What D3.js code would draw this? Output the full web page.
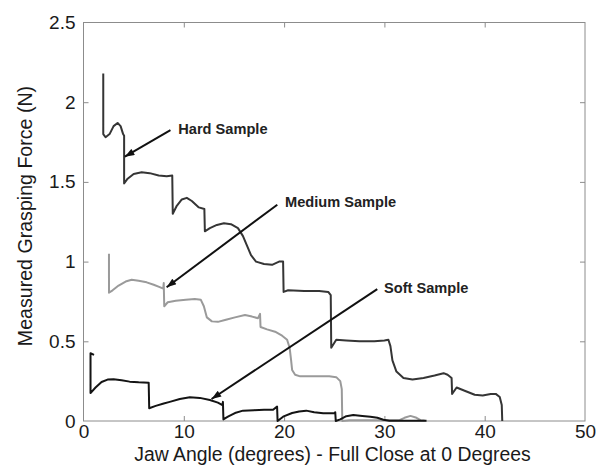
<!DOCTYPE html>
<html>
<head>
<meta charset="utf-8">
<script src="https://cdn.jsdelivr.net/npm/d3@7"></script>
<style>
  html, body { margin: 0; padding: 0; background: #fff; }
  svg { display: block; }
  text { font-family: "Liberation Sans", Arial, Helvetica, sans-serif; }
</style>
</head>
<body>
<div id="chart"></div>
<script>
// ---------------- data ----------------
const xTicks = [0, 10, 20, 30, 40, 50];
const yTicks = [0, 0.5, 1, 1.5, 2, 2.5];

const hardX = [1.97, 1.97, 2.2, 2.6, 3.0, 3.4, 3.7, 3.95, 4.05, 4.05, 4.4, 5.0, 5.8, 6.6, 7.5, 8.3, 8.85,
  8.9, 9.3, 9.8, 10.3, 10.8, 11.5, 12.05, 12.1, 12.6, 13.3, 14.0, 14.7, 15.4, 15.9, 16.3, 16.7, 17.2, 18.0, 18.8, 19.5, 19.9,
  19.95, 20.4, 22.0, 23.5, 24.4, 24.65, 24.7, 25.2, 26.2, 27.5, 29.0, 30.0, 30.4, 30.6, 30.8, 31.2, 31.9, 32.8, 33.9, 35.0, 35.9, 36.3, 36.7,
  36.75, 37.2, 38.0, 39.0, 39.8, 40.6, 41.1, 41.5, 41.7, 41.75];
const hardY = [2.18, 1.80, 1.78, 1.80, 1.85, 1.87, 1.85, 1.80, 1.79, 1.49, 1.52, 1.55, 1.56, 1.555, 1.54, 1.535, 1.54,
  1.30, 1.35, 1.39, 1.40, 1.38, 1.34, 1.33, 1.19, 1.21, 1.23, 1.24, 1.235, 1.21, 1.16, 1.10, 1.04, 1.00, 0.985, 0.98, 1.0, 1.0,
  0.81, 0.82, 0.815, 0.815, 0.81, 0.79, 0.46, 0.51, 0.505, 0.50, 0.50, 0.505, 0.51, 0.47, 0.38, 0.31, 0.27, 0.26, 0.27, 0.285, 0.30, 0.29, 0.27,
  0.17, 0.21, 0.19, 0.165, 0.16, 0.17, 0.17, 0.15, 0.10, 0.0];

const mediumX = [2.54, 2.54, 2.9, 3.5, 4.2, 4.8, 5.5, 6.3, 7.0, 7.6, 7.95, 8.0, 8.05, 8.4, 9.2, 10.2, 11.1, 11.7, 12.0, 12.3, 12.8, 13.4,
  14.2, 15.1, 16.1, 16.8, 17.4, 17.6, 17.65, 18.3, 19.1, 19.8, 20.3, 20.55, 20.7, 20.8, 21.1, 21.6, 23.0, 24.5, 25.2, 25.6, 25.75, 25.8,
  26.5, 30.0, 31.5, 32.0, 32.6, 33.2, 33.6, 34.0];
const mediumY = [1.05, 0.805, 0.82, 0.85, 0.875, 0.886, 0.88, 0.87, 0.855, 0.84, 0.83, 0.865, 0.72, 0.745, 0.755, 0.76, 0.765, 0.76, 0.72, 0.65, 0.625, 0.622,
  0.635, 0.65, 0.665, 0.655, 0.645, 0.672, 0.59, 0.575, 0.56, 0.535, 0.51, 0.46, 0.38, 0.32, 0.29, 0.28, 0.28, 0.28, 0.275, 0.25, 0.20, 0.0,
  0.005, 0.005, 0.005, 0.02, 0.032, 0.02, 0.005, 0.003];

const softX = [1.05, 0.7, 0.7, 1.2, 1.8, 2.4, 3.0, 3.8, 4.6, 5.5, 6.5, 6.55, 7.2, 8.0, 8.6, 9.6, 10.6, 11.6, 12.6, 13.4, 13.85, 13.9, 13.95,
  14.4, 15.1, 15.9, 17.0, 18.0, 18.9, 19.3, 19.35, 19.9, 20.8, 21.5, 22.2, 23.0, 23.9, 25.0, 25.1, 25.15, 25.6, 26.2, 26.9, 27.8, 28.6, 29.3, 29.9, 30.5, 34.2];
const softY = [0.415, 0.425, 0.175, 0.21, 0.245, 0.26, 0.262, 0.255, 0.247, 0.243, 0.24, 0.08, 0.095, 0.11, 0.12, 0.138, 0.149, 0.145, 0.132, 0.115, 0.10, 0.12, 0.01,
  0.027, 0.05, 0.065, 0.068, 0.07, 0.07, 0.09, 0.0, 0.027, 0.05, 0.06, 0.065, 0.055, 0.048, 0.048, 0.055, 0.0, 0.01, 0.03, 0.038, 0.032, 0.027, 0.02, 0.008, 0.002, 0.002];

const labelNames = ["Hard Sample", "Medium Sample", "Soft Sample"];
const labelPosX = [9.45, 20.09, 29.96];
const labelPosY = [1.80, 1.342, 0.802];
const arrowFromX = [8.67, 19.32, 29.29];
const arrowFromY = [1.825, 1.357, 0.827];
const arrowToX = [4.12, 8.29, 12.77];
const arrowToY = [1.658, 0.839, 0.138];

// ---------------- chart ----------------
const W = 597, H = 466;
const mLeft = 83.5, mRight = 585, mTop = 22.5, mBottom = 421;

const svg = d3.select("#chart").append("svg").attr("width", W).attr("height", H);

const x = d3.scaleLinear().domain([0, 50]).range([mLeft, mRight]);
const y = d3.scaleLinear().domain([0, 2.5]).range([mBottom, mTop]);

const frameColor = "#8c8c8c";
const tickLen = 5;

// frame
svg.append("rect").attr("x", mLeft).attr("y", mTop).attr("width", mRight - mLeft).attr("height", mBottom - mTop)
  .attr("fill", "none").attr("stroke", frameColor).attr("stroke-width", 1);

// axes
const fmt = d => String(d);
const xAxis = svg.append("g").attr("transform", `translate(0,${mBottom})`)
  .call(d3.axisBottom(x).tickValues(xTicks).tickSizeInner(-tickLen).tickSizeOuter(0).tickPadding(4).tickFormat(fmt));
const xAxisTop = svg.append("g").attr("transform", `translate(0,${mTop})`)
  .call(d3.axisTop(x).tickValues(xTicks).tickSizeInner(-tickLen).tickSizeOuter(0).tickFormat(""));
const yAxis = svg.append("g").attr("transform", `translate(${mLeft},0)`)
  .call(d3.axisLeft(y).tickValues(yTicks).tickSizeInner(-tickLen).tickSizeOuter(0).tickPadding(8).tickFormat(fmt));
const yAxisRight = svg.append("g").attr("transform", `translate(${mRight},0)`)
  .call(d3.axisRight(y).tickValues(yTicks).tickSizeInner(-tickLen).tickSizeOuter(0).tickFormat(""));

[xAxis, xAxisTop, yAxis, yAxisRight].forEach(g => {
  g.select(".domain").remove();
  g.selectAll(".tick line").attr("stroke", frameColor);
  g.selectAll(".tick text").attr("fill", "#1a1a1a").style("font-size", "19px")
    .style("font-family", "'Liberation Sans', Arial, sans-serif");
});
[xAxis, xAxisTop].forEach(g => g.selectAll(".tick line").filter(d => d === 0 || d === 50).remove());
[yAxis, yAxisRight].forEach(g => g.selectAll(".tick line").filter(d => d === 0 || d === 2.5).remove());

// axis labels
svg.append("text").attr("x", (131.7 + 533.3) / 2).attr("y", 461).attr("text-anchor", "middle")
  .attr("fill", "#1a1a1a").style("font-size", "19.4px").text("Jaw Angle (degrees) - Full Close at 0 Degrees");
svg.append("text").attr("transform", `translate(32,216) rotate(-90)`).attr("text-anchor", "middle")
  .attr("fill", "#1a1a1a").style("font-size", "19.6px").text("Measured Grasping Force (N)");

// lines
const line = d3.line().x(d => x(d[0])).y(d => y(d[1])).curve(d3.curveLinear);
const series = [
  { xs: mediumX, ys: mediumY, color: "#9a9a9a" },
  { xs: softX, ys: softY, color: "#141414" },
  { xs: hardX, ys: hardY, color: "#353535" }
];
series.forEach(s => {
  const pts = s.xs.map((v, i) => [v, s.ys[i]]);
  svg.append("path").datum(pts).attr("d", line).attr("fill", "none")
    .attr("stroke", s.color).attr("stroke-width", 2).attr("stroke-linejoin", "round");
});

// annotations
svg.append("defs").append("marker").attr("id", "ah").attr("viewBox", "0 0 11 8")
  .attr("refX", 11).attr("refY", 4).attr("markerWidth", 11).attr("markerHeight", 7)
  .attr("markerUnits", "userSpaceOnUse").attr("orient", "auto")
  .append("path").attr("d", "M0,0 L11,4 L0,8 Z").attr("fill", "#111");

labelNames.forEach((name, i) => {
  svg.append("line")
    .attr("x1", x(arrowFromX[i])).attr("y1", y(arrowFromY[i]))
    .attr("x2", x(arrowToX[i])).attr("y2", y(arrowToY[i]))
    .attr("stroke", "#111").attr("stroke-width", 2).attr("marker-end", "url(#ah)");
  svg.append("text").attr("x", x(labelPosX[i])).attr("y", y(labelPosY[i]))
    .attr("fill", "#222").style("font-size", "14.6px").style("font-weight", "bold").text(name);
});
</script>
</body>
</html>
